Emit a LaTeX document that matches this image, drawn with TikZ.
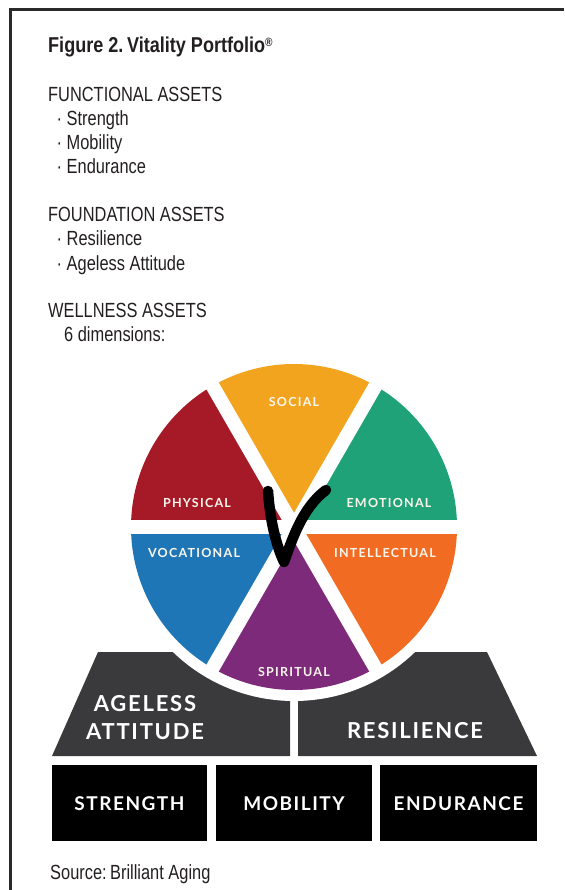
\documentclass[tikz,border=0pt]{standalone}
\usepackage{fontspec}
\newfontfamily\bodyfont{Liberation Sans}[FakeStretch=0.8]
\newfontfamily\headfont{Liberation Sans}[FakeStretch=0.84]
\newfontfamily\gillish{Lato}[LetterSpace=8]
\newfontfamily\gillwide{Lato}[LetterSpace=10]
\definecolor{ink}{HTML}{231F20}
\definecolor{framegray}{HTML}{2A2A2A}
\definecolor{slate}{HTML}{3A3A3C}
\definecolor{cRed}{HTML}{A61A28}
\definecolor{cGold}{HTML}{F3A41E}
\definecolor{cGreen}{HTML}{1FA277}
\definecolor{cBlue}{HTML}{1E76B6}
\definecolor{cOrange}{HTML}{F26B22}
\definecolor{cPurple}{HTML}{7D2A7A}
\definecolor{labelwhite}{HTML}{FBF6EC}
\tikzset{
  txt/.style={anchor=base west, inner sep=0pt, text=ink, font=\bodyfont\fontsize{20.5}{24}\selectfont},
  wheellabel/.style={inner sep=0pt, text=labelwhite, font=\gillwide\bfseries\fontsize{12.5}{14}\selectfont},
  baselabel/.style={inner sep=0pt, text=white, font=\gillish\bfseries\fontsize{22}{26}\selectfont, align=center},
  boxlabel/.style={inner sep=0pt, text=white, font=\gillish\bfseries\fontsize{19}{22}\selectfont},
  gap/.style={draw=white, line width=14pt},
  checkstroke/.style={draw=black, line width=10.5pt, line cap=round, line join=round},
}
\begin{document}
\begin{tikzpicture}[x=1pt,y=-1pt]
\useasboundingbox (0,0) rectangle (564,890);

% frame (top and left rules)
\draw[framegray, line width=3pt] (10,890) -- (10,10) -- (564,10);

% caption text
\node[txt, font=\headfont\bfseries\fontsize{21.5}{24}\selectfont] (title) at (48,53)
  {Figure 2.\,Vitality Portfolio\raisebox{0.6ex}{\fontsize{12}{12}\selectfont ®}};
\node[txt] (functional) at (48,102) {FUNCTIONAL ASSETS};
\node[txt] (strength) at (56.5,126) {· Strength};
\node[txt] (mobility) at (56.5,150) {· Mobility};
\node[txt] (endurance) at (56.5,174) {· Endurance};
\node[txt] (foundation) at (48,222) {FOUNDATION ASSETS};
\node[txt] (resilience) at (56.5,246) {· Resilience};
\node[txt] (ageless) at (56.5,270) {· Ageless Attitude};
\node[txt] (wellness) at (48,317) {WELLNESS ASSETS};
\node[txt] (dims) at (64,341.5) {6 dimensions:};
\node[txt] (source) at (50,879) {Source:\,Brilliant Aging};

% foundation blocks
\fill[slate] (98,652) -- (290,652) -- (290,756) -- (52,756) -- cycle;
\fill[slate] (298,652) -- (487,652) -- (537,756) -- (298,756) -- cycle;

% functional blocks
\fill[black] (52,765) rectangle (207,841);
\fill[black] (216,765) rectangle (372,841);
\fill[black] (380,765) rectangle (537,841);

% wheel
\coordinate (c) at (294,527);
\fill[white] (c) circle[radius=174];
\fill[cRed]    (c) -- ++(180:163) arc[start angle=180, end angle=240, radius=163] -- cycle;
\fill[cGold]   (c) -- ++(240:163) arc[start angle=240, end angle=300, radius=163] -- cycle;
\fill[cGreen]  (c) -- ++(300:163) arc[start angle=300, end angle=360, radius=163] -- cycle;
\fill[cOrange] (c) -- ++(0:163)   arc[start angle=0,   end angle=60,  radius=163] -- cycle;
\fill[cPurple] (c) -- ++(60:163)  arc[start angle=60,  end angle=120, radius=163] -- cycle;
\fill[cBlue]   (c) -- ++(120:163) arc[start angle=120, end angle=180, radius=163] -- cycle;
\draw[gap] (c) ++(0:168) -- ++(180:336);
\draw[gap] (c) ++(60:168) -- ++(240:336);
\draw[gap] (c) ++(120:168) -- ++(300:336);

% check mark
\draw[checkstroke]
  (268,491) .. controls (270,520) and (276,545) .. (284,562)
  .. controls (292,540) and (302,508) .. (326,490);

% wheel labels
\node[wheellabel] (social) at (294,402) {SOCIAL};
\node[wheellabel] (physical) at (197,503) {PHYSICAL};
\node[wheellabel] (emotional) at (389,503) {EMOTIONAL};
\node[wheellabel] (vocational) at (194,553) {VOCATIONAL};
\node[wheellabel] (intellectual) at (385,553) {INTELLECTUAL};
\node[wheellabel] (spiritual) at (294,672) {SPIRITUAL};

% foundation labels
\node[baselabel] (agelessL) at (145,718) {AGELESS\\[2pt]ATTITUDE};
\node[baselabel] (resilienceL) at (415,731) {RESILIENCE};

% functional labels
\node[boxlabel] (strengthL) at (129.5,804) {STRENGTH};
\node[boxlabel] (mobilityL) at (294,804) {MOBILITY};
\node[boxlabel] (enduranceL) at (458.5,804) {ENDURANCE};
\end{tikzpicture}
\end{document}
